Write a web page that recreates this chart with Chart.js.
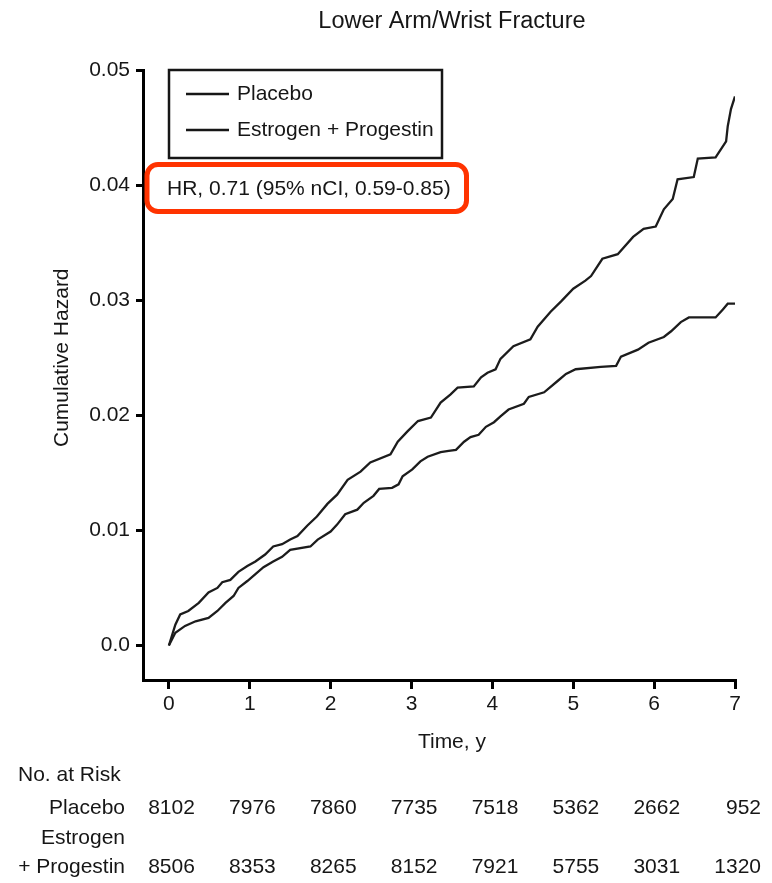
<!DOCTYPE html>
<html>
<head>
<meta charset="utf-8">
<title>Lower Arm/Wrist Fracture</title>
<script src="https://cdn.jsdelivr.net/npm/chart.js@4.4.1/dist/chart.umd.min.js"></script>
<style>
  html, body { margin: 0; padding: 0; background: #fff; }
  canvas { display: block; }
</style>
</head>
<body>
<canvas id="chart" width="772" height="883"></canvas>
<script>
/* ═══════════════════════════
   CUMULATIVE HAZARD CHART
═══════════════════════════ */

const chartTitle = 'Lower Arm/Wrist Fracture';
const xTitle = 'Time, y';
const yTitle = 'Cumulative Hazard';
const hrText = 'HR, 0.71 (95% nCI, 0.59-0.85)';
const seriesNames = ['Placebo', 'Estrogen + Progestin'];

const xTicks = [0, 1, 2, 3, 4, 5, 6, 7];
const yTicks = [0, 0.01, 0.02, 0.03, 0.04, 0.05];
const yTickLabels = ['0.0', '0.01', '0.02', '0.03', '0.04', '0.05'];

// Placebo curve (years, cumulative hazard)
const placeboTime = [0, 0.08, 0.14, 0.24, 0.37, 0.49, 0.60, 0.66, 0.76, 0.86, 0.97, 1.07, 1.19, 1.29, 1.40, 1.50, 1.59, 1.71, 1.83, 1.96,
  2.08, 2.21, 2.37, 2.49, 2.74, 2.83, 2.95, 3.08, 3.24, 3.36, 3.48, 3.57, 3.77, 3.86, 3.94, 4.04, 4.10, 4.26, 4.47, 4.56,
  4.72, 4.85, 5.00, 5.15, 5.22, 5.36, 5.55, 5.74, 5.87, 6.02, 6.12, 6.23, 6.29, 6.49, 6.54, 6.76, 6.89, 6.91, 6.95, 7.00];
const placeboHaz = [0, 0.0018, 0.0027, 0.0030, 0.0037, 0.0046, 0.0050, 0.0055, 0.0057, 0.0064, 0.0069, 0.0073, 0.0079, 0.0086, 0.0088, 0.0092, 0.0095, 0.0104, 0.0112, 0.0123,
  0.0131, 0.0144, 0.0151, 0.0159, 0.0166, 0.0177, 0.0186, 0.0195, 0.0198, 0.0211, 0.0218, 0.0224, 0.0225, 0.0233, 0.0237, 0.0240, 0.0249, 0.0260, 0.0266, 0.0277,
  0.0290, 0.0299, 0.0310, 0.0317, 0.0321, 0.0336, 0.0340, 0.0355, 0.0362, 0.0364, 0.0379, 0.0388, 0.0405, 0.0407, 0.0423, 0.0424, 0.0438, 0.0451, 0.0466, 0.0477];

// Estrogen + Progestin curve
const epTime = [0, 0.08, 0.20, 0.33, 0.49, 0.60, 0.70, 0.80, 0.86, 0.97, 1.07, 1.17, 1.29, 1.40, 1.50, 1.75, 1.84, 2.00, 2.08, 2.18,
  2.33, 2.41, 2.53, 2.60, 2.76, 2.84, 2.89, 3.01, 3.11, 3.20, 3.36, 3.46, 3.55, 3.65, 3.73, 3.83, 3.92, 4.02, 4.10, 4.20,
  4.39, 4.45, 4.64, 4.81, 4.91, 5.03, 5.34, 5.53, 5.59, 5.80, 5.93, 6.12, 6.21, 6.33, 6.43, 6.76, 6.85, 6.91, 7.00];
const epHaz = [0, 0.0011, 0.0017, 0.0021, 0.0024, 0.0030, 0.0037, 0.0043, 0.0050, 0.0056, 0.0062, 0.0068, 0.0073, 0.0077, 0.0083, 0.0086, 0.0092, 0.0099, 0.0105, 0.0114,
  0.0118, 0.0124, 0.0130, 0.0136, 0.0137, 0.0140, 0.0147, 0.0153, 0.0160, 0.0164, 0.0168, 0.0169, 0.0170, 0.0177, 0.0181, 0.0183, 0.0190, 0.0194, 0.0199, 0.0205,
  0.0210, 0.0216, 0.0220, 0.0230, 0.0236, 0.0240, 0.0242, 0.0243, 0.0251, 0.0257, 0.0263, 0.0268, 0.0273, 0.0281, 0.0285, 0.0285, 0.0292, 0.0297, 0.0297];

// Number at risk table
const riskTitle = 'No. at Risk';
const placeboRisk = [8102, 7976, 7860, 7735, 7518, 5362, 2662, 952];
const epRisk = [8506, 8353, 8265, 8152, 7921, 5755, 3031, 1320];

const FONT = '21px "Liberation Sans", Arial, sans-serif';
const INK = '#161616';

// Titles, legend box, HR box and the at-risk table
const annotations = {
  id: 'annotations',
  afterDraw(chart) {
    const { ctx, scales: { x, y } } = chart;
    const midX = x.getPixelForValue(3.5);
    ctx.save();
    ctx.fillStyle = INK;
    ctx.strokeStyle = INK;
    ctx.textBaseline = 'middle';

    ctx.font = '23.5px "Liberation Sans", Arial, sans-serif';
    ctx.textAlign = 'center';
    ctx.fillText(chartTitle, midX, 22);

    ctx.font = FONT;
    ctx.fillText(xTitle, midX, 742);

    ctx.save();
    ctx.translate(62, (y.getPixelForValue(0) + y.getPixelForValue(0.05)) / 2);
    ctx.rotate(-Math.PI / 2);
    ctx.fillText(yTitle, 0, 0);
    ctx.restore();

    // Legend box
    ctx.lineWidth = 2.5;
    ctx.strokeRect(169, 70, 273, 88);
    ctx.textAlign = 'left';
    [94, 130].forEach((ly, i) => {
      ctx.beginPath();
      ctx.moveTo(186, ly);
      ctx.lineTo(229, ly);
      ctx.stroke();
      ctx.fillText(seriesNames[i], 237, ly);
    });

    // HR box
    ctx.strokeStyle = '#ff3300';
    ctx.lineWidth = 5;
    ctx.beginPath();
    ctx.roundRect(147, 164.5, 319.5, 47, 11);
    ctx.stroke();
    ctx.fillText(hrText, 167, 189);

    // At-risk table
    ctx.fillText(riskTitle, 18, 775);
    ctx.textAlign = 'right';
    ctx.fillText('Placebo', 125, 808);
    ctx.fillText('Estrogen', 125, 838);
    ctx.fillText('+ Progestin', 125, 867);
    xTicks.forEach((t, i) => {
      const px = x.getPixelForValue(t) + 26;
      ctx.fillText(String(placeboRisk[i]), px, 808);
      ctx.fillText(String(epRisk[i]), px, 867);
    });
    ctx.restore();
  }
};

const toPoints = (ts, vs) => ts.map((t, i) => ({ x: t, y: vs[i] }));

new Chart(document.getElementById('chart'), {
  type: 'line',
  data: {
    datasets: [
      {
        label: seriesNames[0],
        data: toPoints(placeboTime, placeboHaz),
        borderColor: '#1c1c1c',
        borderWidth: 2.3,
        pointRadius: 0,
        tension: 0
      },
      {
        label: seriesNames[1],
        data: toPoints(epTime, epHaz),
        borderColor: '#1c1c1c',
        borderWidth: 2.3,
        pointRadius: 0,
        tension: 0
      }
    ]
  },
  options: {
    responsive: false,
    animation: false,
    layout: { padding: { top: 70, right: 37, left: 0, bottom: 0 } },
    plugins: { legend: { display: false }, tooltip: { enabled: false } },
    scales: {
      x: {
        type: 'linear',
        min: -0.32,
        max: 7,
        afterBuildTicks: s => { s.ticks = xTicks.map(v => ({ value: v })); },
        afterFit: s => { s.height = 203; },
        border: { display: true, color: '#000', width: 3 },
        grid: { drawOnChartArea: false, drawTicks: true, tickLength: 9, color: '#000', lineWidth: 3 },
        ticks: { color: INK, font: { family: '"Liberation Sans", Arial, sans-serif', size: 21 }, padding: 3, maxRotation: 0 }
      },
      y: {
        type: 'linear',
        min: -0.003,
        max: 0.05,
        afterBuildTicks: s => { s.ticks = yTicks.map(v => ({ value: v })); },
        afterFit: s => { s.width = 143; },
        border: { display: true, color: '#000', width: 3 },
        grid: { drawOnChartArea: false, drawTicks: true, tickLength: 7, color: '#000', lineWidth: 3 },
        ticks: {
          color: INK,
          font: { family: '"Liberation Sans", Arial, sans-serif', size: 21 },
          padding: 6,
          callback: (v, i) => yTickLabels[i]
        }
      }
    }
  },
  plugins: [annotations]
});
</script>
</body>
</html>
